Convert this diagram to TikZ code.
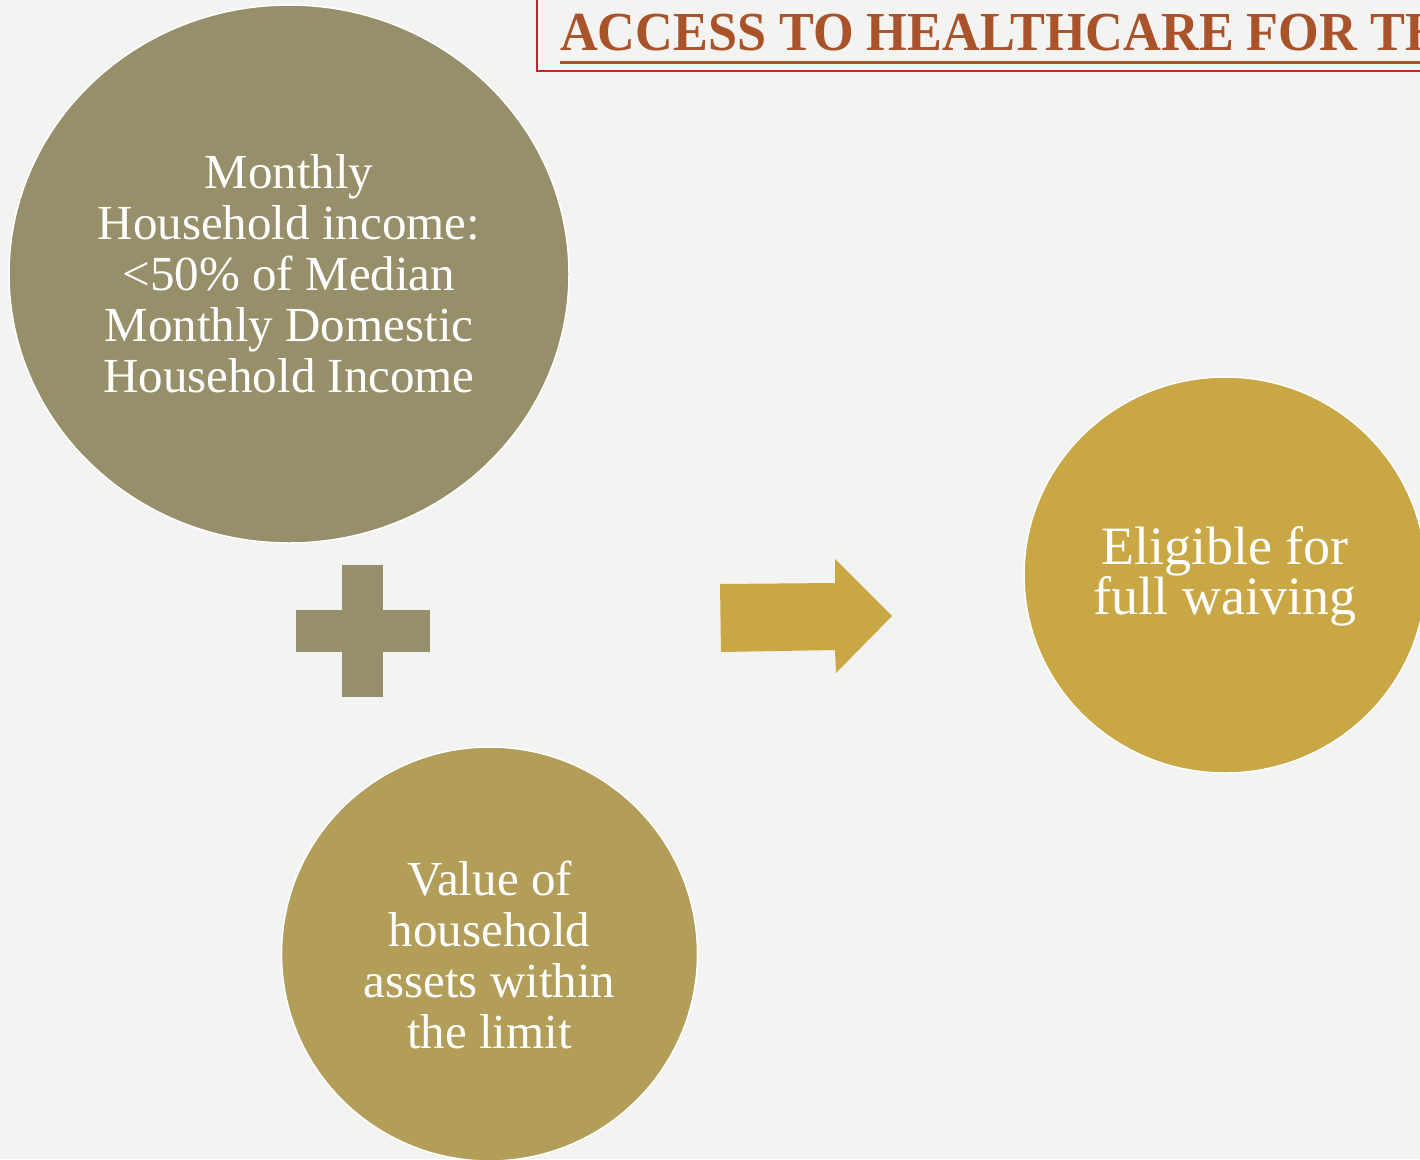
\documentclass[tikz,border=0pt]{standalone}
\usepackage{fontspec}
\setmainfont{Liberation Serif}
\definecolor{bgc}{HTML}{F3F3F1}
\definecolor{olivec}{HTML}{978F69}
\definecolor{midgold}{HTML}{B29E58}
\definecolor{goldc}{HTML}{C9A745}
\definecolor{titlec}{HTML}{A9532B}
\definecolor{boxred}{HTML}{C0272D}
\begin{document}
\begin{tikzpicture}[x=1pt,y=-1pt,
  bubble/.style={draw=white,line width=1.5pt},
  btext/.style={text=white,align=center,font=\fontsize{49}{51}\selectfont,inner sep=0pt},
  shapefill/.style={draw=none}]
\useasboundingbox (0,0) rectangle (1420,1159);
\clip (0,0) rectangle (1420,1159);
\fill[bgc] (0,0) rectangle (1420,1159);
% title box
\draw[boxred,line width=1.5pt] (537,-5) rectangle (1430,71);
\node[anchor=base west,inner sep=0pt,text=titlec,font=\bfseries\fontsize{55}{60}\selectfont] (title) at (560,50) {\scalebox{0.95}[1]{ACCESS TO HEALTHCARE FOR TH}};
\draw[titlec,line width=3pt] (560,62) -- (1430,62);
% circles
\filldraw[bubble,fill=olivec] (289,274) ellipse [x radius=280,y radius=269];
\node[btext] (c1) at (289,274) {Monthly\\Household income:\\<50\% of Median\\Monthly Domestic\\Household Income};
\filldraw[bubble,fill=midgold] (489.5,954) ellipse [x radius=208,y radius=207];
\node[btext] (c2) at (489.5,955) {Value of\\household\\assets within\\the limit};
\filldraw[bubble,fill=goldc] (1225,575) ellipse [x radius=201,y radius=198];
\node[btext,font=\fontsize{54}{50}\selectfont] (c3) at (1225,576) {Eligible for\\full waiving};
% plus
\fill[olivec] (342,565) rectangle (383,697);
\fill[olivec] (296,610) rectangle (430,652);
% arrow
\fill[goldc] (720,584) -- (835,583) -- (835,559) -- (892,616) -- (836,673) -- (835,650) -- (721,652) -- cycle;
\end{tikzpicture}
\end{document}
